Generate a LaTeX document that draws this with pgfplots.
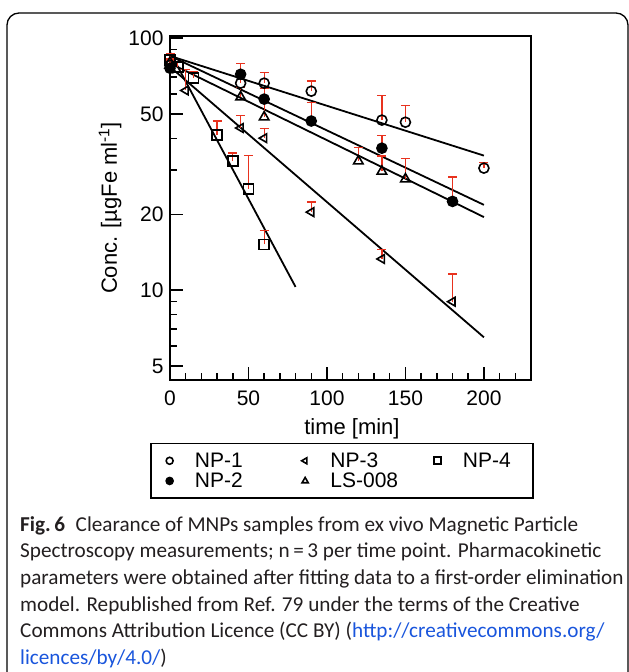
\documentclass[border=0pt]{standalone}
\usepackage{pgfplots}
\pgfplotsset{compat=1.18}
\usepackage{pgfplotstable}
\usepackage{fontspec}
\setmainfont{Liberation Sans}
\newfontfamily\capfont{Carlito}
\definecolor{errred}{RGB}{232,50,30}
\definecolor{linkblue}{RGB}{25,85,220}
\definecolor{captxt}{RGB}{35,31,32}

% x = time [min], y = conc., e = upper error
\pgfplotstableread{
x y e
0 78 4
45 66.3 5
60 66.3 7
90 61.6 6.1
135 47.3 12.1
150 46.4 7.8
200 30.5 1.7
}\npone
\pgfplotstableread{
x y e
0 76 3
45 71.9 7.7
60 57.3 6
90 46.9 8.8
135 36.6 4.6
180 22.5 5.6
}\nptwo
\pgfplotstableread{
x y e
0 76 3
10 62 13
45 44 5.4
60 40.1 3.8
90 20.4 2
135 13.3 1.2
180 9.0 2.6
}\npthree
\pgfplotstableread{
x y e
0 81.8 5
5 77 3
15 69.4 4.5
30 41.2 5.7
40 32.5 2.5
50 25.2 9.1
60 15.2 2.0
}\npfour
\pgfplotstableread{
x y e
0 80 3
45 58.4 5.5
60 48.6 8
120 32.5 4.4
135 29.6 4.5
150 27.6 5.8
}\lsoo

\begin{document}
\begin{tikzpicture}[x=1pt,y=1pt]
\useasboundingbox (0,0) rectangle (629,-672);
\draw[line width=1.3pt, rounded corners=12pt] (7,-700) -- (7,-13) -- (628,-13) -- (628,-700);
\begin{axis}[
  at={(170pt,-380pt)}, anchor=south west,
  scale only axis, width=361pt, height=344pt,
  ymode=log,
  xmin=0, xmax=230, ymin=4.4, ymax=102,
  xtick={0,50,100,150,200},
  minor xtick={10,20,30,40,60,70,80,90,110,120,130,140,160,170,180,190,210,220},
  ytick={5,10,20,50,100}, yticklabels={5,10,20,50,100},
  minor ytick={6,7,8,9,30,40,60,70,80,90},
  tick align=inside, xtick pos=bottom, ytick pos=left,
  major tick length=13pt, minor tick length=7pt,
  every tick/.style={black, line width=1.5pt},
  axis line style={line width=1.8pt},
  /pgf/number format/assume math mode=true,
  tick label style={font=\fontsize{21}{25}\selectfont},
  xticklabel style={yshift=-7pt},
  yticklabel style={xshift=-3pt},
  label style={font=\fontsize{22}{26}\selectfont},
  xlabel={time [min]},
  ylabel={Conc. [µgFe ml\textsuperscript{-1}]},
  xlabel style={at={(axis description cs:0.504,-0.143)}, anchor=center},
  ylabel style={at={(axis description cs:-0.166,0.5)}, anchor=center},
  clip=false,
  legend columns=3,
  legend cell align=left,
  legend image code/.code={
    \draw[#1, mark size=3.5pt] plot coordinates {(0pt,0pt)};
    \path (-8pt,0pt) (22.5pt,0pt);},
  legend style={at={(axis description cs:-0.055,-0.183)}, anchor=north west,
    draw=black, line width=1.5pt, inner xsep=10pt, inner ysep=7pt,
    font=\fontsize{21}{25}\selectfont},
  err/.style={error bars/.cd, y dir=plus, y explicit,
    error bar style={errred, line width=1.3pt},
    error mark options={errred, rotate=90, mark size=4.5pt, line width=1.3pt}},
]
\addplot[black, line width=1.8pt, forget plot] coordinates {(0,85) (200,34.2)};
\addplot[black, line width=1.8pt, forget plot] coordinates {(0,85) (200,21.8)};
\addplot[black, line width=1.8pt, forget plot] coordinates {(0,79.5) (200,19.5)};
\addplot[black, line width=1.8pt, forget plot] coordinates {(0,77) (200,6.5)};
\addplot[black, line width=1.8pt, forget plot] coordinates {(0,88) (80,10.3)};

\addplot[only marks, mark=o, mark size=5pt, mark options={black, line width=1.6pt}, err]
  table[x=x, y=y, y error=e] {\npone};
\addplot[only marks, mark=triangle, mark size=5pt, mark options={black, rotate=90, line width=1.6pt}, err]
  table[x=x, y=y, y error=e] {\npthree};
\addplot[only marks, mark=square, mark size=5pt, mark options={black, line width=1.6pt}, err]
  table[x=x, y=y, y error=e] {\npfour};
\addplot[only marks, mark=*, mark size=5pt, mark options={black, fill=black, line width=1.6pt}, err]
  table[x=x, y=y, y error=e] {\nptwo};
\addplot[only marks, mark=triangle, mark size=5.5pt, mark options={black, line width=1.6pt}, err]
  table[x=x, y=y, y error=e] {\lsoo};
\legend{\makebox[99.5pt][l]{NP-1}, \makebox[96.5pt][l]{NP-3}, \makebox[58pt][l]{NP-4},
  \makebox[99.5pt][l]{NP-2\rule[-8pt]{0pt}{8pt}}, \makebox[96.5pt][l]{LS-008\rule[-8pt]{0pt}{8pt}}}
\end{axis}
\node[anchor=north west, align=left, inner sep=0pt, text=captxt,
  font={\capfont\fontsize{21.2}{26.7}\selectfont}] at (20,-516)
  {\textbf{Fig.\,6}\hspace{0.5em}Clearance of MNPs samples from ex vivo Magnetic Particle\\
   Spectroscopy measurements; n\,=\,3 per time point. Pharmacokinetic\\
   parameters were obtained after fitting data to a first-order elimination\\
   model. Republished from Ref. 79 under the terms of the Creative\\
   Commons Attribution Licence (CC BY) (\textcolor{linkblue}{http://creativecommons.org/}\\
   \textcolor{linkblue}{licences/by/4.0/})};
\end{tikzpicture}
\end{document}
